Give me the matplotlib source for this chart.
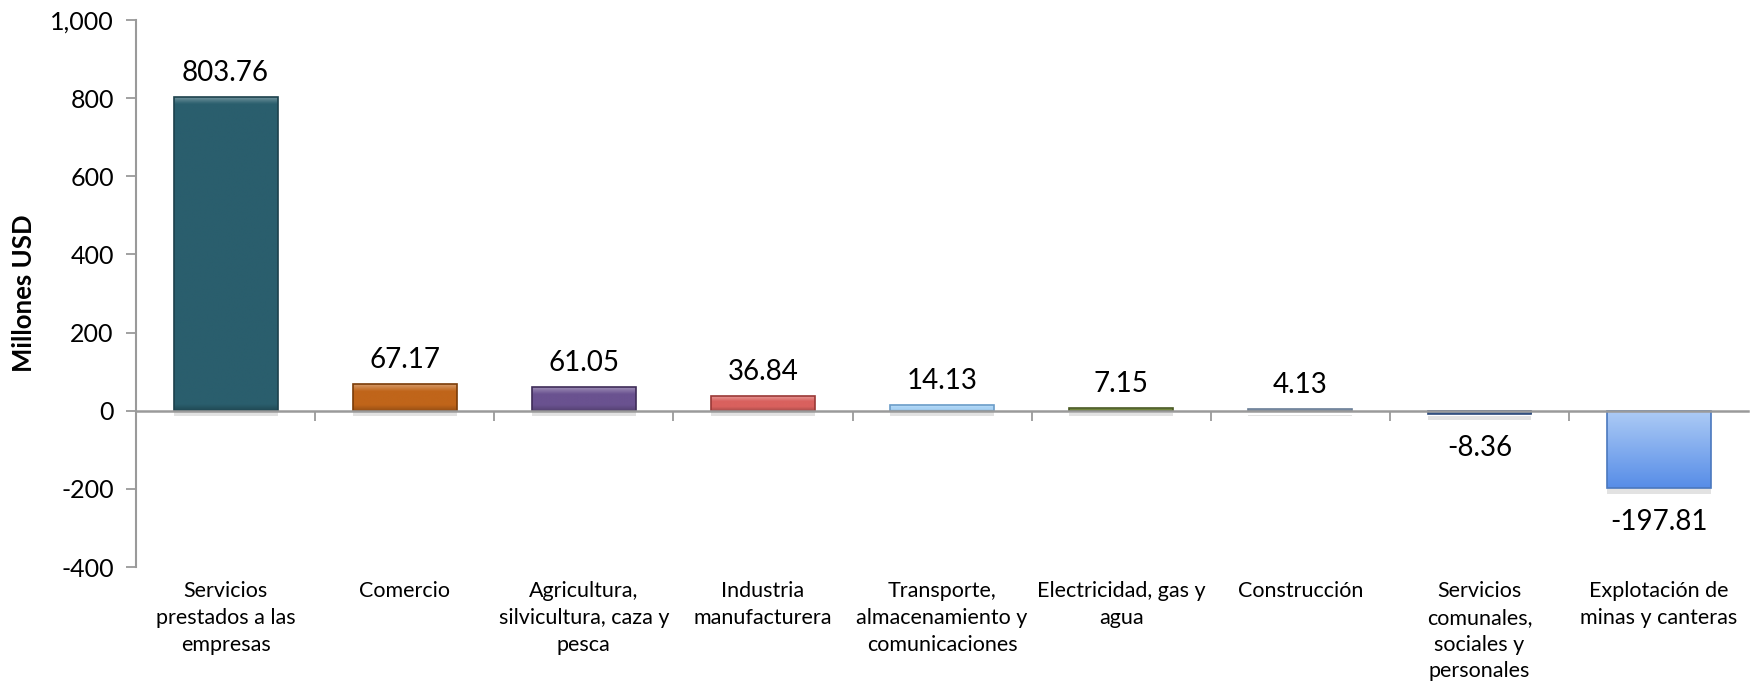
import matplotlib
matplotlib.use("Agg")
import numpy as np
import matplotlib.pyplot as plt
import matplotlib.patheffects as pe
from matplotlib.colors import to_rgb
from matplotlib.ticker import FuncFormatter
import matplotlib.transforms as mtransforms

plt.rcParams['font.family'] = ['Lato', 'DejaVu Sans']

categories = [
    "Servicios\nprestados a las\nempresas",
    "Comercio",
    "Agricultura,\nsilvicultura, caza y\npesca",
    "Industria\nmanufacturera",
    "Transporte,\nalmacenamiento y\ncomunicaciones",
    "Electricidad, gas y\nagua",
    "Construcción",
    "Servicios\ncomunales,\nsociales y\npersonales",
    "Explotación de\nminas y canteras",
]
values = [803.76, 67.17, 61.05, 36.84, 14.13, 7.15, 4.13, -8.36, -197.81]
fills = ["#2A5E6D", "#C0651A", "#6A5290", "#D9615E", "#A9D3F5",
         "#70843C", "#8EA4BE", "#4F74AC", "#82B0F0"]
edges = ["#1C414C", "#7A3C08", "#3E2C58", "#9A3836", "#6A9CC8",
         "#4A5A24", "#6A7E96", "#2F4C7C", "#4A78BE"]
y_ticks = [-400, -200, 0, 200, 400, 600, 800, 1000]

# pixels per data unit along y (axes is 547 px tall for 1400 units)
PX_PER_UNIT = 547 / 1400


def bevel(color, hpx, n=200, smooth=False):
    rgb = np.array(to_rgb(color))
    light = rgb + (1 - rgb) * 0.35
    dark = rgb * 0.78
    top = min(0.35, 7 / max(hpx, 1))
    bot = min(0.3, 6 / max(hpx, 1))
    out = np.empty((n, 1, 3))
    for i, ti in enumerate(np.linspace(0, 1, n)):
        if smooth:
            # whole-bar gradient: pale at the top, deeper blue at the bottom
            hi = rgb + (1 - rgb) * 0.35
            lo = rgb ** 1.6
            out[i, 0] = hi * (1 - ti) + lo * ti
        elif ti < top:
            k = ti / top
            out[i, 0] = light * (1 - k) + rgb * k
        elif ti > 1 - bot:
            k = (ti - (1 - bot)) / bot
            out[i, 0] = rgb * (1 - k) + dark * k
        else:
            out[i, 0] = rgb
    return out


fig = plt.figure(figsize=(17.5, 6.98), dpi=100)
ax = fig.add_axes([136 / 1750, 1 - 567 / 698, 1 - 136 / 1750 - 0.001, (567 - 20) / 698])

x = list(range(len(values)))
bars = ax.bar(x, values, width=0.58, color=fills, linewidth=0, zorder=3)
for b in bars:
    b.set_path_effects([pe.SimplePatchShadow(offset=(0, -4), shadow_rgbFace="#A0A0A0", alpha=0.3),
                        pe.Normal()])

for i, (b, c) in enumerate(zip(bars, fills)):
    x0, w = b.get_x(), b.get_width()
    y0, y1 = sorted([b.get_y(), b.get_y() + b.get_height()])
    hpx = (y1 - y0) * PX_PER_UNIT
    im = ax.imshow(bevel(c, hpx, smooth=(i == len(values) - 1)),
                   extent=[x0, x0 + w, y0, y1], aspect="auto",
                   origin="upper", zorder=3.1, interpolation="bilinear")
    im.set_clip_path(b)

ax.bar(x, values, width=0.58, fill=False, edgecolor=edges, linewidth=1.2, zorder=3.2)

for xi, v in zip(x, values):
    if v >= 0:
        ax.annotate(f"{v:.2f}", (xi, v), xytext=(0, 8), textcoords="offset points",
                    ha="center", va="bottom", fontsize=20, color="black")
    else:
        ax.annotate(f"{v:.2f}", (xi, v), xytext=(0, -15), textcoords="offset points",
                    ha="center", va="top", fontsize=20, color="black")

ax.set_xlim(-0.5, len(values) - 0.5)
ax.set_ylim(-400, 1000)
ax.set_yticks(y_ticks)
ax.yaxis.set_major_formatter(FuncFormatter(lambda v, p: f"{int(v):,}"))
ax.tick_params(axis="y", labelsize=18, direction="out", length=7, width=1.3,
               color="#9A9A9A", pad=9)

ax.spines["top"].set_visible(False)
ax.spines["right"].set_visible(False)
ax.spines["left"].set_color("#9A9A9A")
ax.spines["left"].set_linewidth(1.5)
ax.spines["bottom"].set_position(("data", 0))
ax.spines["bottom"].set_color("#9A9A9A")
ax.spines["bottom"].set_linewidth(1.8)
ax.spines["bottom"].set_zorder(4)

ax.set_xticks([i + 0.5 for i in x[:-1]])
ax.set_xticklabels([])
ax.tick_params(axis="x", direction="out", length=7, width=1.3, color="#9A9A9A")

trans = mtransforms.blended_transform_factory(ax.transData, ax.transAxes)
for xi, c in zip(x, categories):
    ax.text(xi, -0.026, c, transform=trans, ha="center", va="top",
            fontsize=15.5, linespacing=1.42, color="black")

ax.set_ylabel("Millones USD", fontsize=18.5, fontweight="bold", labelpad=10)

fig.savefig("out.png", dpi=100)
